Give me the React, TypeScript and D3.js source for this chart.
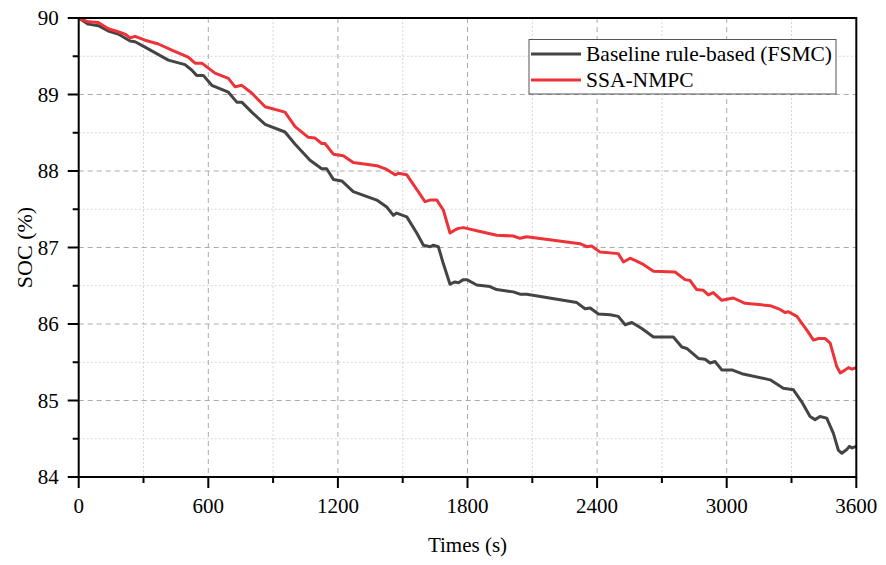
import React from "react";
import * as d3 from "d3";

const baselineT = [0, 44, 91, 137, 183, 238, 261, 307, 415, 492, 523, 546, 577, 616, 693, 732, 755, 801, 863, 955, 1002, 1071, 1125, 1148, 1179, 1218, 1271, 1380, 1426, 1457, 1472, 1519, 1565, 1596, 1627, 1642, 1665, 1688, 1719, 1742, 1758, 1781, 1797, 1843, 1904, 1935, 2012, 2043, 2074, 2306, 2344, 2368, 2406, 2460, 2498, 2530, 2561, 2607, 2661, 2753, 2792, 2815, 2869, 2900, 2923, 2946, 2977, 3024, 3070, 3201, 3262, 3309, 3348, 3386, 3409, 3432, 3463, 3494, 3517, 3533, 3556, 3568, 3580, 3600];
const baselineSOC = [90.0, 89.92, 89.9, 89.83, 89.79, 89.7, 89.69, 89.62, 89.45, 89.39, 89.32, 89.25, 89.25, 89.12, 89.03, 88.9, 88.9, 88.77, 88.61, 88.51, 88.35, 88.14, 88.03, 88.03, 87.89, 87.87, 87.73, 87.62, 87.53, 87.42, 87.45, 87.4, 87.19, 87.03, 87.01, 87.03, 87.01, 86.79, 86.52, 86.55, 86.54, 86.58, 86.58, 86.51, 86.49, 86.45, 86.42, 86.39, 86.39, 86.28, 86.2, 86.21, 86.13, 86.12, 86.1, 85.99, 86.02, 85.94, 85.83, 85.83, 85.7, 85.68, 85.55, 85.54, 85.49, 85.51, 85.4, 85.4, 85.35, 85.27, 85.16, 85.14, 84.98, 84.79, 84.75, 84.79, 84.77, 84.57, 84.35, 84.31, 84.36, 84.4, 84.38, 84.4];

const nmpcT = [0, 44, 91, 137, 183, 214, 238, 261, 307, 369, 431, 507, 539, 570, 631, 693, 724, 755, 801, 863, 955, 1002, 1063, 1094, 1125, 1140, 1179, 1225, 1271, 1380, 1426, 1465, 1480, 1519, 1572, 1603, 1627, 1658, 1688, 1719, 1742, 1758, 1781, 1858, 1935, 2012, 2043, 2074, 2321, 2352, 2375, 2414, 2498, 2522, 2553, 2607, 2661, 2761, 2807, 2830, 2861, 2892, 2915, 2938, 2977, 3031, 3085, 3201, 3247, 3270, 3286, 3325, 3371, 3402, 3425, 3456, 3479, 3510, 3526, 3549, 3564, 3580, 3600];
const nmpcSOC = [90.0, 89.95, 89.94, 89.86, 89.82, 89.79, 89.74, 89.76, 89.71, 89.66, 89.58, 89.49, 89.41, 89.41, 89.28, 89.21, 89.1, 89.12, 89.02, 88.84, 88.77, 88.58, 88.44, 88.43, 88.36, 88.36, 88.22, 88.2, 88.11, 88.07, 88.02, 87.95, 87.97, 87.95, 87.73, 87.6, 87.62, 87.62, 87.49, 87.19, 87.23, 87.25, 87.26, 87.21, 87.16, 87.15, 87.12, 87.14, 87.05, 87.01, 87.02, 86.94, 86.92, 86.81, 86.86, 86.79, 86.69, 86.68, 86.58, 86.57, 86.45, 86.44, 86.38, 86.41, 86.31, 86.34, 86.27, 86.24, 86.19, 86.15, 86.16, 86.1, 85.92, 85.79, 85.81, 85.81, 85.75, 85.44, 85.36, 85.4, 85.43, 85.41, 85.43];

const xTicks = [0, 600, 1200, 1800, 2400, 3000, 3600];
const xMinor = [300, 900, 1500, 2100, 2700, 3300];
const yTicks = [84, 85, 86, 87, 88, 89, 90];
const yMinor = [84.5, 85.5, 86.5, 87.5, 88.5, 89.5];
const seriesNames = ["Baseline rule-based (FSMC)", "SSA-NMPC"];
const seriesColors = ["#444444", "#ee3338"];

const W = 886, H = 565;
const L = 78.7, R = 856.3, T = 18, B = 477;
const FONT = "'Liberation Serif', 'Times New Roman', serif";

export default function App() {
  const x = d3.scaleLinear().domain([0, 3600]).range([L, R]);
  const y = d3.scaleLinear().domain([84, 90]).range([B, T]);
  const line = d3.line<[number, number]>().x(d => x(d[0])).y(d => y(d[1]));
  const base = baselineT.map((t, i) => [t, baselineSOC[i]] as [number, number]);
  const nmpc = nmpcT.map((t, i) => [t, nmpcSOC[i]] as [number, number]);

  return (
    <svg width={W} height={H} style={{ position: "absolute", left: 0, top: 0, background: "#fff" }} fontFamily={FONT}>
      <defs>
        <clipPath id="plot"><rect x={L} y={T} width={R - L} height={B - T} /></clipPath>
      </defs>
      {/* minor grid */}
      {xMinor.map(v => <line key={"xm" + v} x1={x(v)} x2={x(v)} y1={T} y2={B} stroke="#d6d6d6" strokeWidth={1} strokeDasharray="2,2" />)}
      {yMinor.map(v => <line key={"ym" + v} x1={L} x2={R} y1={y(v)} y2={y(v)} stroke="#d6d6d6" strokeWidth={1} strokeDasharray="2,2" />)}
      {/* major grid */}
      {xTicks.slice(1, -1).map(v => <line key={"xg" + v} x1={x(v)} x2={x(v)} y1={T} y2={B} stroke="#aaaaaa" strokeWidth={1} strokeDasharray="5,4" />)}
      {yTicks.slice(1, -1).map(v => <line key={"yg" + v} x1={L} x2={R} y1={y(v)} y2={y(v)} stroke="#aaaaaa" strokeWidth={1} strokeDasharray="5,4" />)}
      {/* data */}
      <g clipPath="url(#plot)">
        <path d={line(base) || ""} fill="none" stroke={seriesColors[0]} strokeWidth={3} strokeLinejoin="round" strokeLinecap="round" />
        <path d={line(nmpc) || ""} fill="none" stroke={seriesColors[1]} strokeWidth={3} strokeLinejoin="round" strokeLinecap="round" />
      </g>
      {/* frame */}
      <rect x={L} y={T} width={R - L} height={B - T} fill="none" stroke="#000" strokeWidth={2} />
      {/* ticks */}
      {xTicks.map(v => <line key={"xt" + v} x1={x(v)} x2={x(v)} y1={B} y2={B + 11} stroke="#000" strokeWidth={2} />)}
      {xMinor.map(v => <line key={"xmt" + v} x1={x(v)} x2={x(v)} y1={B} y2={B + 6} stroke="#000" strokeWidth={2} />)}
      {yTicks.map(v => <line key={"yt" + v} x1={L - 11} x2={L} y1={y(v)} y2={y(v)} stroke="#000" strokeWidth={2} />)}
      {yMinor.map(v => <line key={"ymt" + v} x1={L - 6} x2={L} y1={y(v)} y2={y(v)} stroke="#000" strokeWidth={2} />)}
      {/* tick labels */}
      {xTicks.map(v => <text key={"xl" + v} x={x(v)} y={B + 36} textAnchor="middle" fontSize={21} fill="#000">{v}</text>)}
      {yTicks.map(v => <text key={"yl" + v} x={L - 20} y={y(v) + 7} textAnchor="end" fontSize={21} fill="#000">{v}</text>)}
      {/* axis titles */}
      <text x={(L + R) / 2} y={552} textAnchor="middle" fontSize={21} fill="#000">Times (s)</text>
      <text transform={`translate(32,${(T + B) / 2}) rotate(-90)`} textAnchor="middle" fontSize={22} fill="#000">SOC (%)</text>
      {/* legend */}
      <rect x={529} y={39.5} width={307} height={54.5} fill="#fff" stroke="#555" strokeWidth={1} />
      {seriesNames.map((n, i) => (
        <g key={n}>
          <line x1={531} x2={581} y1={54 + i * 26} y2={54 + i * 26} stroke={seriesColors[i]} strokeWidth={3} />
          <text x={586} y={61 + i * 26} fontSize={21.5} fill="#000">{n}</text>
        </g>
      ))}
    </svg>
  );
}
